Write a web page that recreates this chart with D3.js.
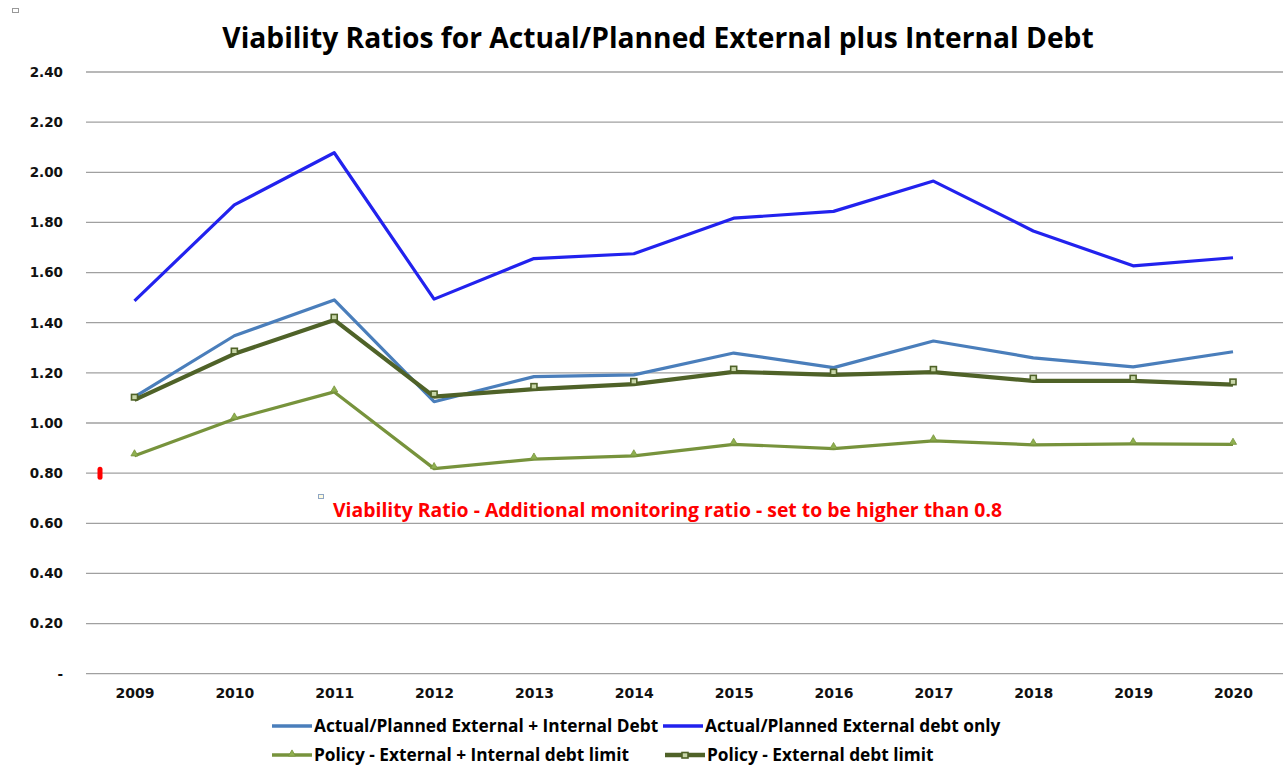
<!DOCTYPE html>
<html><head><meta charset="utf-8">
<script src="https://cdn.jsdelivr.net/npm/d3@7"></script>
<style>body{margin:0;background:#fff}svg{display:block}</style>
</head><body>
<svg id="c" width="1283" height="766"></svg>
<script>
const years = ["2009","2010","2011","2012","2013","2014","2015","2016","2017","2018","2019","2020"];
const actualExtInt = [1.104,1.348,1.491,1.085,1.185,1.192,1.279,1.221,1.327,1.260,1.224,1.284];
const actualExtOnly = [1.487,1.870,2.078,1.494,1.656,1.675,1.817,1.844,1.965,1.766,1.627,1.659];
const policyExtInt = [0.869,1.016,1.124,0.818,0.856,0.869,0.915,0.898,0.929,0.913,0.917,0.915];
const policyExt = [1.092,1.276,1.411,1.105,1.135,1.155,1.204,1.192,1.203,1.168,1.168,1.153];
const yTicks = [0,0.2,0.4,0.6,0.8,1.0,1.2,1.4,1.6,1.8,2.0,2.2,2.4];
const threshold = 0.8;
const titleText = "Viability Ratios for Actual/Planned External plus Internal Debt";
const noteText = "Viability Ratio - Additional monitoring ratio - set to be higher than 0.8";

const series = [
  {name:"Actual/Planned External + Internal Debt", values:actualExtInt, color:"#4a7ebb", width:3.2, marker:null},
  {name:"Actual/Planned External debt only", values:actualExtOnly, color:"#2222ee", width:3.2, marker:null},
  {name:"Policy - External + Internal debt limit", values:policyExtInt, color:"#77933c", width:3.2, marker:"tri"},
  {name:"Policy - External debt limit", values:policyExt, color:"#4f6228", width:4.2, marker:"sq"}
];

const svg = d3.select("#c");
const x = d3.scalePoint().domain(years).range([134.5,1233]);
const y = d3.scaleLinear().domain([0,2.4]).range([673.7,72]);

// title
svg.append("text").attr("x",658).attr("y",48).attr("text-anchor","middle")
  .style("font-family","'Open Sans', sans-serif").style("font-weight","bold").style("font-size","28.2px")
  .attr("fill","#000").text(titleText);

// gridlines
svg.append("g").selectAll("line").data(yTicks).join("line")
  .attr("x1",86).attr("x2",1283).attr("y1",d=>y(d)).attr("y2",d=>y(d))
  .attr("stroke","#a0a0a0").attr("stroke-width",1.3);

// y axis labels
const yAxis = d3.axisLeft(y).tickValues(yTicks).tickSize(0).tickPadding(0)
  .tickFormat(d=> d===0 ? "-" : d.toFixed(2));
const gy = svg.append("g").attr("transform","translate(63,0)").call(yAxis);
gy.select(".domain").remove();
gy.selectAll("text").style("font-family","'DejaVu Sans', sans-serif").style("font-weight","bold")
  .style("font-size","13.5px").attr("fill","#111");

// x axis labels
const xAxis = d3.axisBottom(x).tickSize(0).tickPadding(0);
const gx = svg.append("g").attr("transform","translate(0,688)").call(xAxis);
gx.select(".domain").remove();
gx.selectAll("text").style("font-family","'DejaVu Sans', sans-serif").style("font-weight","bold")
  .style("font-size","14px").attr("fill","#111");

// threshold marker
svg.append("rect").attr("x",97.5).attr("y",y(threshold)-6.5).attr("width",5).attr("height",13)
  .attr("rx",2.5).attr("fill","#ff0000");

// lines
const line = d3.line().x((d,i)=>x(years[i])).y(d=>y(d));
series.forEach(s=>{
  svg.append("path").datum(s.values).attr("d",line).attr("fill","none")
    .attr("stroke",s.color).attr("stroke-width",s.width).attr("stroke-linejoin","round");
});

// markers
const tri = d3.symbol().type(d3.symbolTriangle).size(22);
function drawMarker(g, type, cx, cy, color){
  if(type==="tri"){
    g.append("path").attr("d",tri()).attr("transform",`translate(${cx},${cy-2})`)
      .attr("fill","#8fb050").attr("stroke",color).attr("stroke-width",0.8);
  } else if(type==="sq"){
    g.append("rect").attr("x",cx-3).attr("y",cy-5.5).attr("width",6).attr("height",5.5)
      .attr("fill","#c8d6a8").attr("stroke",color).attr("stroke-width",1.6);
  }
}
series.forEach(s=>{
  if(!s.marker) return;
  const g = svg.append("g");
  s.values.forEach((v,i)=>drawMarker(g, s.marker, x(years[i]), y(v), s.color));
});

// annotation
svg.append("rect").attr("x",318.5).attr("y",494.5).attr("width",5).attr("height",4)
  .attr("fill","#fffbe0").attr("stroke","#8fa6c4").attr("stroke-width",1);
svg.append("text").attr("x",333).attr("y",517)
  .style("font-family","'Open Sans', sans-serif").style("font-weight","bold").style("font-size","19.4px")
  .attr("fill","#ff0000").text(noteText);

// top-left small box
svg.append("rect").attr("x",12.5).attr("y",8.5).attr("width",6).attr("height",4)
  .attr("fill","#fff").attr("stroke","#999").attr("stroke-width",1);

// legend
const legendPos = [[272,726],[663,726],[272,755],[665,755]];
series.forEach((s,i)=>{
  const [lx,ly] = legendPos[i];
  const g = svg.append("g");
  g.append("line").attr("x1",lx).attr("x2",lx+40).attr("y1",ly).attr("y2",ly)
    .attr("stroke",s.color).attr("stroke-width",s.width+0.5);
  if(s.marker) drawMarker(g, s.marker, lx+20, ly+ (s.marker==="sq"?3:1), s.color);
  g.append("text").attr("x",lx+42).attr("y",ly+6)
    .style("font-family","'Open Sans', sans-serif").style("font-weight","bold").style("font-size","17.3px")
    .attr("fill","#000").text(s.name);
});
</script>
</body></html>
